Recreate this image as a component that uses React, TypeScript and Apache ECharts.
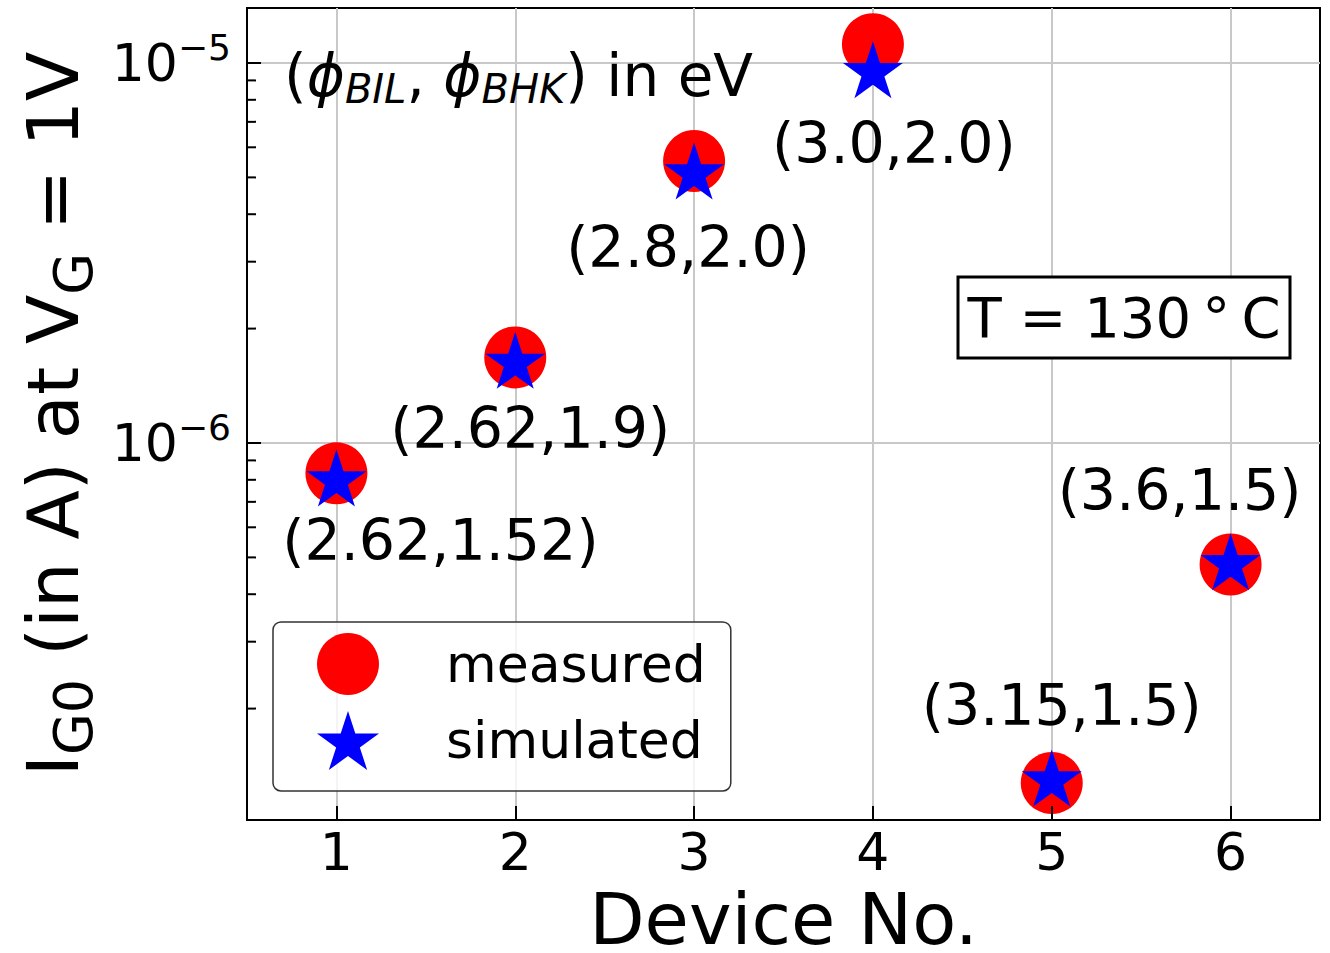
import React, { useEffect, useRef } from 'react';
import * as echarts from 'echarts';

// ---- data ----
const devices = [1, 2, 3, 4, 5, 6];
const measured = [8.32e-7, 1.68e-6, 5.52e-6, 1.12e-5, 1.274e-7, 4.79e-7];
const simulated = [8.09e-7, 1.65e-6, 5.2e-6, 9.6e-6, 1.313e-7, 4.87e-7];
const pointLabels = ['(2.62,1.52)', '(2.62,1.9)', '(2.8,2.0)', '(3.0,2.0)', '(3.15,1.5)', '(3.6,1.5)'];
const xGridValues = [1, 2, 3, 4, 5, 6];
const yGridValues = [1e-6, 1e-5];
const yMinorTicks = [2e-7, 3e-7, 4e-7, 5e-7, 6e-7, 7e-7, 8e-7, 9e-7, 2e-6, 3e-6, 4e-6, 5e-6, 6e-6, 7e-6, 8e-6, 9e-6];
const xMin = 0.5;
const xMax = 6.5;
const yMin = 1.0183e-7;
const yMax = 1.3955e-5;

// ---- layout (pixel offsets of point labels, relative to the star) ----
const labelOffsets = [[104, 62], [15, 68], [-6, 76], [21, 73], [10, -73], [-51, -72]];

const FONT = 'DejaVu Sans';

const starPath = (() => {
  const pts: string[] = [];
  for (let i = 0; i < 10; i++) {
    const r = i % 2 === 0 ? 100 : 38.2;
    const a = -Math.PI / 2 + (i * Math.PI) / 5;
    pts.push(`${(r * Math.cos(a)).toFixed(2)} ${(r * Math.sin(a)).toFixed(2)}`);
  }
  return 'path://M' + pts.join(' L') + ' Z';
})();

export default function App() {
  const ref = useRef<HTMLDivElement>(null);
  useEffect(() => {
    if (!ref.current) return;
    const chart = echarts.init(ref.current, null, { renderer: 'svg' });
    const option: any = {
      animation: false,
      backgroundColor: '#ffffff',
      grid: {
        left: 247, right: 10, top: 8, bottom: 133,
        outerBoundsMode: 'none', containLabel: false,
        show: true, borderColor: '#000', borderWidth: 2, backgroundColor: 'transparent',
      },
      legend: {
        orient: 'vertical', left: 273, top: 622,
        padding: [11, 25, 21, 44],
        itemWidth: 62, itemHeight: 62, itemGap: 16,
        backgroundColor: 'rgba(255,255,255,0.8)',
        borderColor: '#333', borderWidth: 1.5, borderRadius: 8,
        textStyle: { fontSize: 52, fontFamily: FONT, color: '#000', padding: [0, 0, 0, 62] },
        data: ['measured', 'simulated'],
        z: 6,
      },
      xAxis: {
        type: 'value', min: xMin, max: xMax, z: 5,
        name: 'Device No.', nameLocation: 'middle', nameGap: 70,
        nameTextStyle: { fontSize: 72, fontFamily: FONT, color: '#000', lineHeight: 56 },
        axisLine: { lineStyle: { color: '#000', width: 2 } },
        axisTick: { inside: true, length: 14, lineStyle: { color: '#000', width: 2 } },
        axisLabel: {
          fontSize: 52, fontFamily: FONT, color: '#000', margin: 6,
          showMinLabel: false, showMaxLabel: false,
          formatter: (v: number) => (Math.abs(v - Math.round(v)) < 1e-9 ? String(v) : ''),
        },
        splitLine: { show: false },
      },
      yAxis: {
        type: 'log', logBase: 10, min: yMin, max: yMax, z: 5,
        name: '{m|I}{s|G0}{m| (in A) at V}{s|G}{m| = 1V}',
        nameLocation: 'middle', nameRotate: 90, nameGap: 146,
        nameTextStyle: {
          fontSize: 72, fontFamily: FONT, color: '#000',
          rich: {
            m: { fontSize: 72, fontFamily: FONT, color: '#000' },
            s: { fontSize: 54, fontFamily: FONT, color: '#000', padding: [42, 0, 0, 0] },
          },
        },
        axisLine: { lineStyle: { color: '#000', width: 2 } },
        axisTick: { inside: true, length: 14, lineStyle: { color: '#000', width: 2 } },
        axisLabel: {
          margin: 16, showMinLabel: false, showMaxLabel: false,
          formatter: (v: number) => {
            const e = Math.log10(v);
            const n = Math.round(e);
            if (Math.abs(e - n) > 1e-6) return '';
            return `{b|10}{s|${n < 0 ? '\u2212' : ''}${Math.abs(n)}}`;
          },
          rich: {
            b: { fontSize: 52, fontFamily: FONT, color: '#000' },
            s: { fontSize: 36, fontFamily: FONT, color: '#000', padding: [0, 0, 30, 0] },
          },
        },
        splitLine: { show: false },
      },
      series: [
        {
          type: 'scatter', name: '_ticks', silent: true, clip: false, z: 2,
          data: yMinorTicks.map((v) => [xMin, v]),
          symbol: 'rect', symbolSize: [9, 2], symbolOffset: [4.5, 0],
          itemStyle: { color: '#000', opacity: 1 },
          markLine: {
            silent: true, z: 1, symbol: ['none', 'none'], label: { show: false },
            lineStyle: { color: '#c8c8c8', width: 2, type: 'solid' },
            emphasis: { disabled: true },
            data: [
              ...xGridValues.map((x) => [{ coord: [x, yMin] }, { coord: [x, yMax] }]),
              ...yGridValues.map((y) => [{ coord: [xMin, y] }, { coord: [xMax, y] }]),
            ],
          },
        },
        {
          type: 'scatter', name: 'measured', z: 3,
          symbol: 'circle', symbolSize: 62,
          itemStyle: { color: '#ff0000', opacity: 1 },
          data: devices.map((d, i) => [d, measured[i]]),
        },
        {
          type: 'scatter', name: 'simulated', z: 4,
          symbol: starPath, symbolSize: [60, 57],
          itemStyle: { color: '#0000ff', opacity: 1 },
          label: {
            show: true, position: 'inside', fontSize: 57, fontFamily: FONT, color: '#000',
            formatter: (p: any) => pointLabels[p.dataIndex],
          },
          data: devices.map((d, i) => ({
            value: [d, simulated[i]],
            label: { offset: labelOffsets[i] },
          })),
        },
      ],
      graphic: [
        {
          type: 'text', x: 284, y: 76, z: 10,
          style: {
            text: '{p|(}{f|\u03D5}{u|BIL}{p|, }{f|\u03D5}{u|BHK}{p|) in eV}',
            align: 'left', verticalAlign: 'middle',
            rich: {
              p: { fontSize: 58, fontFamily: FONT, fill: '#000' },
              f: { fontSize: 58, fontFamily: FONT, fontStyle: 'italic', fill: '#000' },
              u: { fontSize: 40, fontFamily: FONT, fontStyle: 'italic', fill: '#000', padding: [26, 0, 0, 0] },
            },
          },
        },
        {
          type: 'rect', z: 10, shape: { x: 958, y: 277, width: 332, height: 81 },
          style: { fill: '#fff', stroke: '#000', lineWidth: 3 },
        },
        {
          type: 'text', x: 1124, y: 317, z: 11,
          style: {
            text: 'T = 130\u2009\u00B0\u2009C', align: 'center', verticalAlign: 'middle',
            fontSize: 56, fontFamily: FONT, fill: '#000',
          },
        },
      ],
    };
    chart.setOption(option);
    return () => chart.dispose();
  }, []);
  return <div ref={ref} style={{ position: 'absolute', left: 0, top: 0, width: 1330, height: 953 }} />;
}
